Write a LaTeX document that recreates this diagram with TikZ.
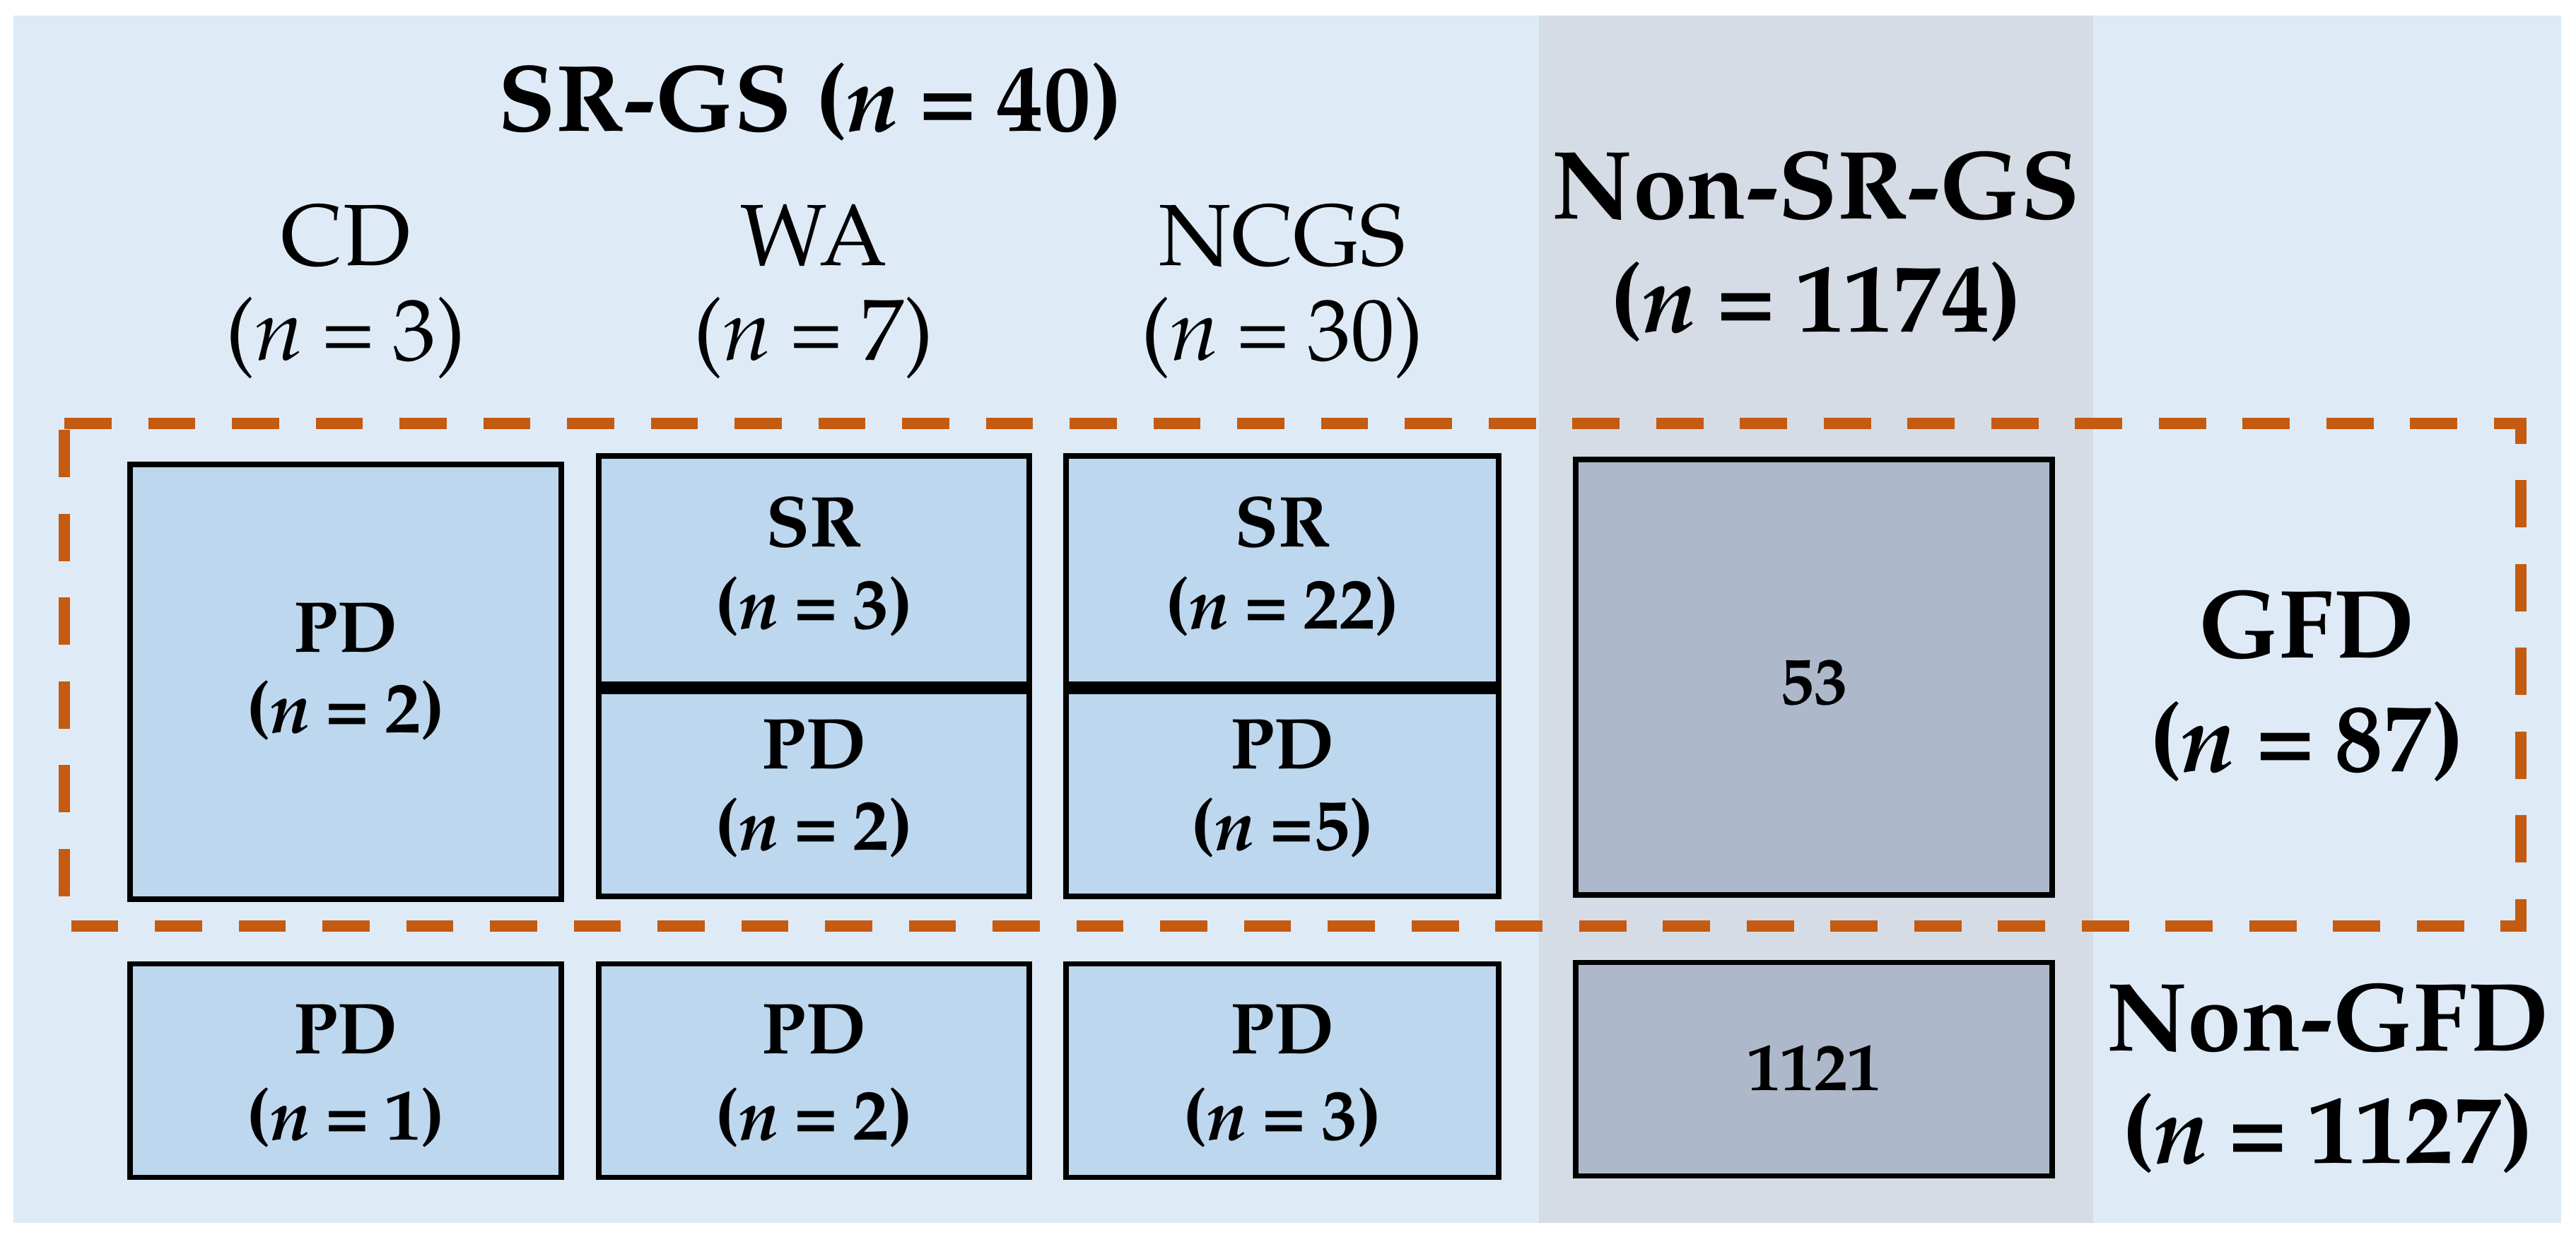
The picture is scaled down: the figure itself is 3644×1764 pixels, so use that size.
\documentclass[tikz,border=0pt]{standalone}
\usepackage[T1]{fontenc}
\usepackage{mathpazo}
\definecolor{panelblue}{HTML}{DEEBF7}
\definecolor{colgray}{HTML}{D6DCE5}
\definecolor{boxblue}{HTML}{BDD7EE}
\definecolor{boxgray}{HTML}{ADB9CA}
\definecolor{dashorange}{HTML}{C55A11}
\newcommand{\titlefont}{\fontsize{38}{43}\selectfont\bfseries}
\newcommand{\headfont}{\fontsize{35}{40}\selectfont}
\newcommand{\bigbold}{\fontsize{39}{44}\selectfont\bfseries}
\newcommand{\boxfont}{\fontsize{29}{33}\selectfont\bfseries}
\newcommand{\numfont}{\fontsize{27}{31}\selectfont\bfseries}
\newcommand{\eq}{\hspace{0.21em}=\hspace{0.21em}}
\begin{document}
\begin{tikzpicture}[x=0.01cm,y=-0.01cm,
  bx/.style={draw=black, line width=2.2pt, fill=boxblue, inner sep=0pt, rectangle},
  gbx/.style={bx, fill=boxgray},
  lbl/.style={anchor=base, inner sep=0pt, font=\boxfont},
  hd/.style={anchor=base, inner sep=0pt, font=\headfont},
  big/.style={anchor=base, inner sep=0pt, font=\bigbold},
  gfdline/.style={draw=dashorange, line width=4.5pt, dash pattern=on 19pt off 14.7pt},
  divider/.style={draw=black, line width=5pt}
]
\useasboundingbox (0,0) rectangle (3644,1764);
\fill[white] (0,0) rectangle (3644,1764);
% panel and gray column
\fill[panelblue] (19,22) rectangle (3623,1730);
\fill[colgray] (2177,22) rectangle (2961,1730);

% headers
\node[anchor=base, inner sep=0pt, font=\titlefont] (title) at (1146,186) {SR-GS (\textit{n}\eq 40)};
\node[hd] (cdh) at (489,376) {CD};
\node[hd] (cdn) at (489,510) {(\textit{n}\eq 3)};
\node[hd] (wah) at (1151,376) {WA};
\node[hd] (wan) at (1151,510) {(\textit{n}\eq 7)};
\node[hd] (ncgsh) at (1814,376) {NCGS};
\node[hd] (ncgsn) at (1814,510) {(\textit{n}\eq 30)};
\node[big] (nonsr) at (2569,310) {Non-SR-GS};
\node[big] (nonsrn) at (2569,470) {(\textit{n}\eq 1174)};

% dashed GFD frame
\draw[gfdline] (91,599) -- (3566,599) -- (3566,1310) -- (91,1310) -- cycle;

% top row boxes
\node[bx, minimum width=6.09cm, minimum height=6.14cm] (cdtop) at (489,964.5) {};
\node[bx, minimum width=6.08cm, minimum height=3.24cm] (wasr) at (1151.5,807) {};
\node[bx, minimum width=6.08cm, minimum height=2.99cm] (wapd) at (1151.5,1118.5) {};
\node[bx, minimum width=6.11cm, minimum height=3.24cm] (ncsr) at (1814,807) {};
\node[bx, minimum width=6.11cm, minimum height=2.99cm] (ncpd) at (1814,1118.5) {};
\node[gbx, minimum width=6.73cm, minimum height=6.15cm] (gtop) at (2566,958) {};
\draw[divider] (wasr.south west) -- (wasr.south east);
\draw[divider] (ncsr.south west) -- (ncsr.south east);

% bottom row boxes
\node[bx, minimum width=6.09cm, minimum height=3.02cm] (cdbot) at (489,1514.5) {};
\node[bx, minimum width=6.08cm, minimum height=3.02cm] (wabot) at (1151.5,1514.5) {};
\node[bx, minimum width=6.11cm, minimum height=3.02cm] (ncbot) at (1814,1514.5) {};
\node[gbx, minimum width=6.73cm, minimum height=3.02cm] (gbot) at (2566,1512.5) {};

% box texts
\node[lbl] (t1a) at (489,922) {PD};
\node[lbl] (t1b) at (489,1036) {(\textit{n}\eq 2)};
\node[lbl] (t2a) at (1151.5,774) {SR};
\node[lbl] (t2b) at (1151.5,889) {(\textit{n}\eq 3)};
\node[lbl] (t3a) at (1151.5,1087) {PD};
\node[lbl] (t3b) at (1151.5,1202) {(\textit{n}\eq 2)};
\node[lbl] (t4a) at (1814,774) {SR};
\node[lbl] (t4b) at (1814,889) {(\textit{n}\eq 22)};
\node[lbl] (t5a) at (1814,1087) {PD};
\node[lbl] (t5b) at (1814,1202) {(\textit{n}\hspace{0.21em}=5)};
\node[anchor=base, inner sep=0pt, font=\numfont] (t6) at (2566,996) {53};
\node[lbl] (b1a) at (489,1490) {PD};
\node[lbl] (b1b) at (489,1612) {(\textit{n}\eq 1)};
\node[lbl] (b2a) at (1151.5,1490) {PD};
\node[lbl] (b2b) at (1151.5,1612) {(\textit{n}\eq 2)};
\node[lbl] (b3a) at (1814,1490) {PD};
\node[lbl] (b3b) at (1814,1612) {(\textit{n}\eq 3)};
\node[anchor=base, inner sep=0pt, font=\numfont] (b4) at (2566,1542) {1121};

% side labels
\node[big] (gfd) at (3263,930) {GFD};
\node[big] (gfdn) at (3263,1091) {(\textit{n}\eq 87)};
\node[big] (ngfd) at (3293,1486) {Non-GFD};
\node[big] (ngfdn) at (3293,1645) {(\textit{n}\eq 1127)};
\end{tikzpicture}
\end{document}
